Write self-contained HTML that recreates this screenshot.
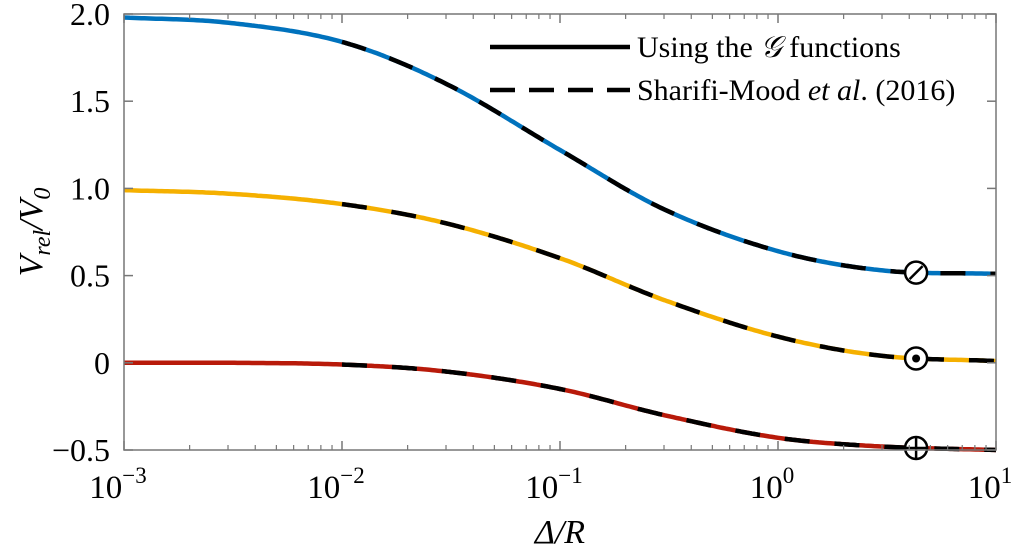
<!DOCTYPE html>
<html><head><meta charset="utf-8"><style>
body{margin:0;background:#fff}
svg{display:block;font-family:"Liberation Serif",serif}
</style></head><body>
<svg id="c" width="1017" height="553" viewBox="0 0 1017 553">
<g id="grid"></g><g id="series"></g><g id="marks"></g><g id="axes"></g>
<text x="560" y="543" text-anchor="middle" font-size="34" font-style="italic">Δ/R</text>
<text transform="translate(42,232) rotate(-90)" text-anchor="middle" font-size="34" font-style="italic">V<tspan font-size="24" dy="8">rel</tspan><tspan dy="-8">/V</tspan><tspan font-size="24" dy="8">0</tspan></text>
<g font-size="30">
<line x1="490" y1="47" x2="630" y2="47" stroke="#000" stroke-width="4.5"/>
<text x="637" y="57">Using the <tspan font-style="italic">𝒢</tspan> functions</text>
<line x1="490" y1="90" x2="630" y2="90" stroke="#000" stroke-width="4.5" stroke-dasharray="25 14"/>
<text x="637" y="100">Sharifi-Mood <tspan font-style="italic">et al</tspan>. (2016)</text>
</g>
</svg>
<script>
const xVals = [0.001, 0.003, 0.01, 0.03, 0.1, 0.3, 1, 3, 10];
const blueVals = [1.98, 1.95, 1.84, 1.6, 1.22, 0.88, 0.64, 0.53, 0.51];
const yellowVals = [0.99, 0.97, 0.91, 0.8, 0.6, 0.36, 0.15, 0.04, 0.01];
const redVals = [0, 0, -0.01, -0.05, -0.15, -0.3, -0.43, -0.48, -0.5];
const yTicks = [2.0, 1.5, 1.0, 0.5, 0, -0.5];
const yTickLabels = ["2.0", "1.5", "1.0", "0.5", "0", "\u22120.5"];
const xDecades = [-3, -2, -1, 0, 1];
const markerX = 4.3;

const NS = "http://www.w3.org/2000/svg";
const L = 124, R = 996, T = 14, B = 450;
const xs = v => L + (Math.log10(v) + 3) / 4 * (R - L);
const ys = v => T + (2 - v) / 2.5 * (B - T);
function el(tag, attrs, parent) {
  const e = document.createElementNS(NS, tag);
  for (const k in attrs) e.setAttribute(k, attrs[k]);
  document.getElementById(parent).appendChild(e);
  return e;
}
function interp(vals, lx) {
  const lxs = xVals.map(Math.log10);
  let i = 0;
  while (i < lxs.length - 2 && lx > lxs[i + 1]) i++;
  const h = lxs[i + 1] - lxs[i], t = (lx - lxs[i]) / h;
  const m = k => {
    if (k <= 0) return (vals[1] - vals[0]) / (lxs[1] - lxs[0]);
    if (k >= vals.length - 1) return (vals[k] - vals[k - 1]) / (lxs[k] - lxs[k - 1]);
    return (vals[k + 1] - vals[k - 1]) / (lxs[k + 1] - lxs[k - 1]);
  };
  const h00 = 2*t*t*t - 3*t*t + 1, h10 = t*t*t - 2*t*t + t, h01 = -2*t*t*t + 3*t*t, h11 = t*t*t - t*t;
  return h00*vals[i] + h10*h*m(i) + h01*vals[i+1] + h11*h*m(i+1);
}
function pathFor(vals, lx0, lx1) {
  let d = "";
  for (let j = 0; j <= 300; j++) {
    const lx = lx0 + (lx1 - lx0) * j / 300;
    const x = L + (lx + 3) / 4 * (R - L), y = ys(interp(vals, lx));
    d += (j ? "L" : "M") + x.toFixed(1) + "," + y.toFixed(1);
  }
  return d;
}
const series = [[blueVals, "#0072bd", "blue"], [yellowVals, "#f5b000", "yellow"], [redVals, "#b81a0a", "red"]];
series.forEach(([vals, col, nm]) => {
  const p = el("path", {d: pathFor(vals, -3, 1), fill: "none", stroke: col, "stroke-width": 4.5}, "series");
  
  
  const q = el("path", {d: pathFor(vals, -2, 1), fill: "none", stroke: "#000", "stroke-width": 4.5, "stroke-dasharray": "25 25"}, "series");
  
  
});
const mx = xs(markerX);
[[blueVals, "slash"], [yellowVals, "dot"], [redVals, "plus"]].forEach(([vals, kind]) => {
  const my = ys(interp(vals, Math.log10(markerX)));
  const g = el("g", {}, "marks");
  
  
  const add = (t, a) => { const e = document.createElementNS(NS, t); for (const k in a) e.setAttribute(k, a[k]); g.appendChild(e); };
  add("circle", {cx: mx, cy: my, r: 11, fill: "#fff", stroke: "#000", "stroke-width": 2.5});
  if (kind === "slash") add("line", {x1: mx - 6.5, y1: my + 6.5, x2: mx + 6.5, y2: my - 6.5, stroke: "#000", "stroke-width": 2.5});
  if (kind === "dot") add("circle", {cx: mx, cy: my, r: 4, fill: "#000"});
  if (kind === "plus") { add("line", {x1: mx - 11, y1: my, x2: mx + 11, y2: my, stroke: "#000", "stroke-width": 2.5}); add("line", {x1: mx, y1: my - 11, x2: mx, y2: my + 11, stroke: "#000", "stroke-width": 2.5}); }
});
const fr = el("rect", {x: L, y: T, width: R - L, height: B - T, fill: "none", stroke: "#777", "stroke-width": 1.5}, "axes");


yTicks.forEach((v, i) => {
  const y = ys(v);
  el("line", {x1: L, y1: y, x2: L + 9, y2: y, stroke: "#777", "stroke-width": 1.5}, "axes");
  el("line", {x1: R, y1: y, x2: R - 9, y2: y, stroke: "#777", "stroke-width": 1.5}, "axes");
  const t = el("text", {x: L - 14, y: y + 11, "text-anchor": "end", "font-size": 32}, "axes");
  t.textContent = yTickLabels[i];
  
  
});
xDecades.forEach((d, i) => {
  const x = L + (d + 3) / 4 * (R - L);
  el("line", {x1: x, y1: B, x2: x, y2: B - 9, stroke: "#777", "stroke-width": 1.5}, "axes");
  el("line", {x1: x, y1: T, x2: x, y2: T + 9, stroke: "#777", "stroke-width": 1.5}, "axes");
  if (i < xDecades.length - 1) for (let k = 2; k < 10; k++) {
    const xm = L + (d + Math.log10(k) + 3) / 4 * (R - L);
    el("line", {x1: xm, y1: B, x2: xm, y2: B - 5, stroke: "#777", "stroke-width": 1.2}, "axes");
    el("line", {x1: xm, y1: T, x2: xm, y2: T + 5, stroke: "#777", "stroke-width": 1.2}, "axes");
  }
  const t = el("text", {x: x - 6, y: 498, "text-anchor": "middle", "font-size": 33}, "axes");
  
  
  const a = document.createElementNS(NS, "tspan"); a.textContent = "10"; t.appendChild(a);
  const b = document.createElementNS(NS, "tspan"); b.setAttribute("dy", -15); b.setAttribute("font-size", 23); b.textContent = d < 0 ? "\u2212" + (-d) : String(d); t.appendChild(b);
});
</script>
</body></html>
